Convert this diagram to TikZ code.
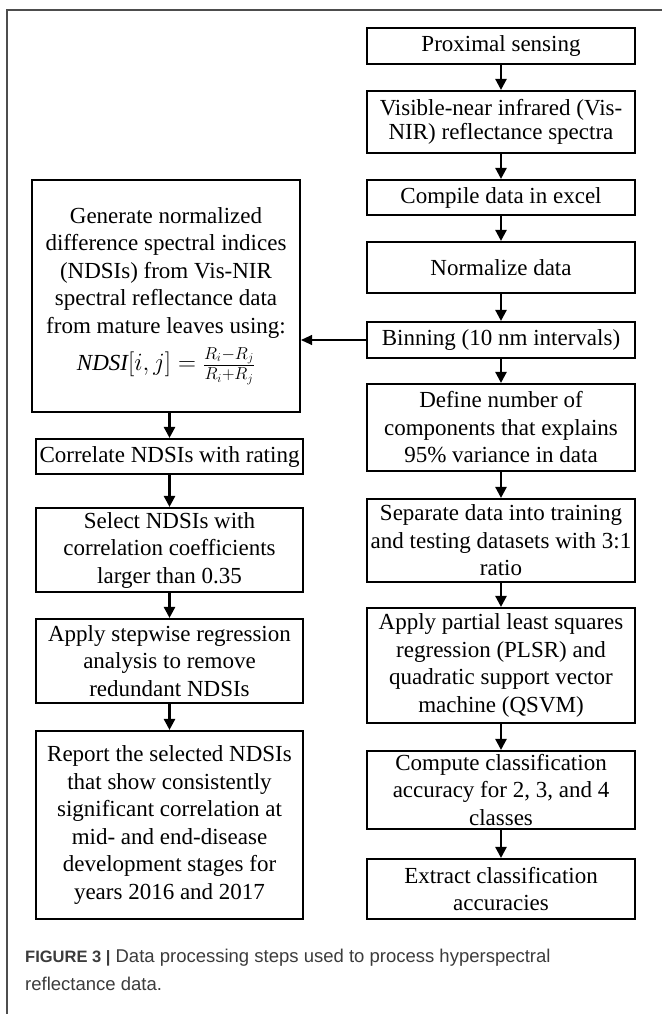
\documentclass[tikz,border=0pt]{standalone}
\usepackage{fontspec}
\setmainfont{Liberation Serif}
\newfontfamily\capfont{Liberation Sans}
\usetikzlibrary{arrows.meta}
\definecolor{framegray}{HTML}{4D4D4D}
\definecolor{captxt}{HTML}{3C3C3C}
\begin{document}
\begin{tikzpicture}[x=1pt,y=-1pt,
  stepbox/.style={draw=black, line width=2.1pt, align=center, inner sep=0pt,
    minimum width=268pt, font=\fontsize{23}{27.5}\selectfont},
  flow/.style={-{Triangle[length=11pt,width=11pt]}, line width=2.4pt},
  thinflow/.style={-{Triangle[length=11pt,width=10pt]}, line width=1.1pt},
  captext/.style={anchor=base west, inner sep=0pt, text=captxt, font=\capfont\fontsize{18.5}{22}\selectfont}]
\useasboundingbox (0,0) rectangle (662,1014);
\fill[white] (0,0) rectangle (662,1014);
\draw[framegray, line width=1.3pt] (7,1014) -- (7,10) -- (662,10);

% right column
\node[stepbox, minimum height=36pt] (p1) at (501,46) {Proximal sensing};
\node[stepbox, minimum height=62pt, font=\fontsize{23}{24}\selectfont] (p2) at (501,122) {Visible-near infrared (Vis-\\NIR) reflectance spectra};
\node[stepbox, minimum height=35pt] (p3) at (501,197.5) {Compile data in excel};
\node[stepbox, minimum height=51pt] (p4) at (501,267.5) {Normalize data};
\node[stepbox, minimum height=36pt] (p5) at (501,340) {Binning (10 nm intervals)};
\node[stepbox, minimum height=87pt] (p6) at (501,427.5) {Define number of\\components that explains\\95\% variance in data};
\node[stepbox, minimum height=83pt] (p7) at (501,540.5) {Separate data into training\\and testing datasets with 3:1\\ratio};
\node[stepbox, minimum height=115pt] (p8) at (501,665.5) {Apply partial least squares\\regression (PLSR) and\\quadratic support vector\\machine (QSVM)};
\node[stepbox, minimum height=78pt] (p9) at (501,790) {Compute classification\\accuracy for 2, 3, and 4\\classes};
\node[stepbox, minimum height=60pt] (p10) at (501,889) {Extract classification\\accuracies};

% left column
\node[stepbox, minimum height=232pt] (l1) at (166,296) {Generate normalized\\difference spectral indices\\(NDSIs) from Vis-NIR\\spectral reflectance data\\from mature leaves using:\\[8pt]$\mathit{NDSI}[i,j]=\frac{R_i-R_j}{R_i+R_j}$};
\node[stepbox, minimum width=267pt, minimum height=35pt] (l2) at (169.5,456.5) {Correlate NDSIs with rating};
\node[stepbox, minimum width=267pt, minimum height=84pt] (l3) at (169.5,550) {Select NDSIs with\\correlation coefficients\\larger than 0.35};
\node[stepbox, minimum width=267pt, minimum height=84pt] (l4) at (169.5,661) {Apply stepwise regression\\analysis to remove\\redundant NDSIs};
\node[stepbox, minimum width=267pt, minimum height=188pt] (l5) at (169.5,825) {Report the selected NDSIs\\that show consistently\\significant correlation at\\mid- and end-disease\\development stages for\\years 2016 and 2017};

% connectors right
\foreach \a/\b in {p1/p2,p2/p3,p3/p4,p4/p5,p5/p6,p6/p7,p7/p8,p8/p9,p9/p10}
  \draw[flow] (\a.south) -- (\b.north);
% connectors left
\draw[flow] (l2.north |- l1.south) -- (l2.north);
\foreach \a/\b in {l2/l3,l3/l4,l4/l5}
  \draw[flow] (\a.south) -- (\b.north);
\draw[thinflow] (p5.west) -- (p5.west -| l1.east);

% caption
\node[captext] (cap1) at (25,962) {{\bfseries\fontsize{16.5}{19}\selectfont FIGURE 3 |} Data processing steps used to process hyperspectral};
\node[captext] (cap2) at (25,990) {reflectance data.};
\end{tikzpicture}
\end{document}
